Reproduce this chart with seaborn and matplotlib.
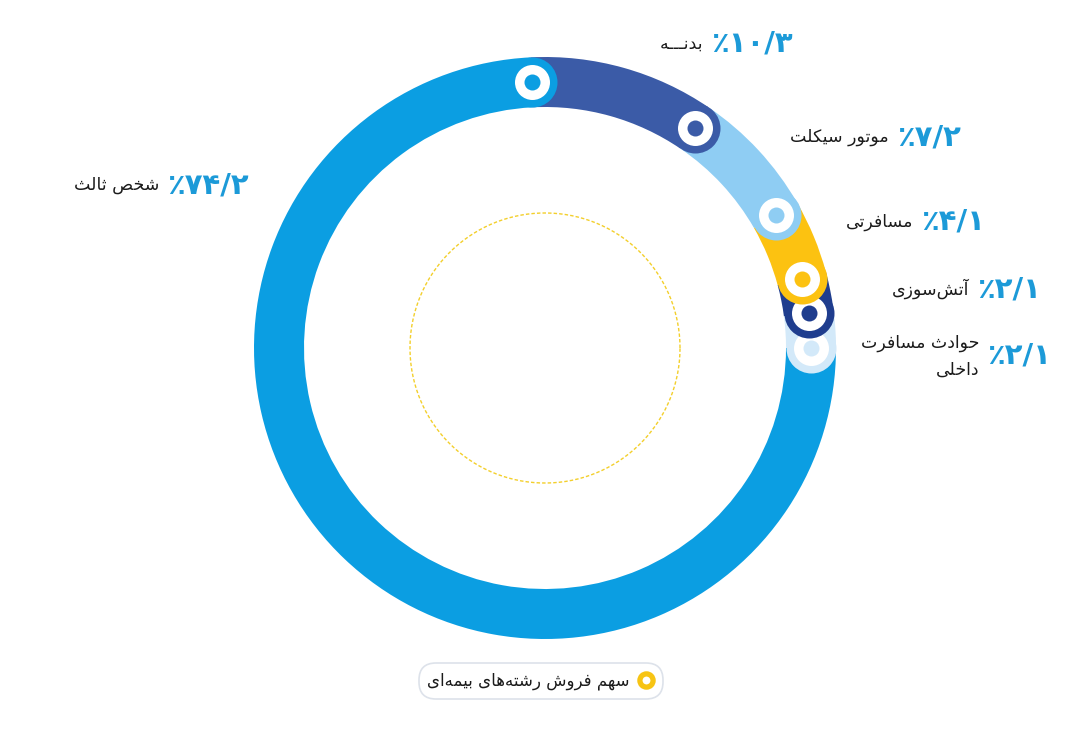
import numpy as np
import matplotlib
matplotlib.use("Agg")
import matplotlib.pyplot as plt
import seaborn as sns
from matplotlib.lines import Line2D

# ---------------- data ----------------
categories = ["شخص ثالث", "بدنـــه", "موتور سی\u06a9لت", "مسافرت\u06cc",
              "آتش\u200cسوز\u06cc", "حوادث مسافرت\nداخل\u06cc"]
shares = [74.2, 10.3, 7.2, 4.1, 2.1, 2.1]
colors = ["#0b9ee2", "#3b5ba7", "#8fcdf3", "#fcc211", "#1f3d8e", "#d3e9f9"]
legend_label = "سهم فروش رشته\u200cها\u06cc ب\u06ccمه\u200cا\u06cc"

# label anchors in pixels (x of percent left edge, y centre from top)
label_pos = [(167, 185), (711, 44), (897, 137), (921, 222), (977, 289), (987, 356)]

# ---------------- simple Persian shaping ----------------
_FORMS = {
    'ا': ('\uFE8D', '\uFE8E'), 'آ': ('\uFE81', '\uFE82'),
    'ب': ('\uFE8F', '\uFE90', '\uFE91', '\uFE92'),
    'ت': ('\uFE95', '\uFE96', '\uFE97', '\uFE98'),
    'ث': ('\uFE99', '\uFE9A', '\uFE9B', '\uFE9C'),
    'ح': ('\uFEA1', '\uFEA2', '\uFEA3', '\uFEA4'),
    'خ': ('\uFEA5', '\uFEA6', '\uFEA7', '\uFEA8'),
    'د': ('\uFEA9', '\uFEAA'), 'ر': ('\uFEAD', '\uFEAE'), 'ز': ('\uFEAF', '\uFEB0'),
    'س': ('\uFEB1', '\uFEB2', '\uFEB3', '\uFEB4'),
    'ش': ('\uFEB5', '\uFEB6', '\uFEB7', '\uFEB8'),
    'ص': ('\uFEB9', '\uFEBA', '\uFEBB', '\uFEBC'),
    'ف': ('\uFED1', '\uFED2', '\uFED3', '\uFED4'),
    'ل': ('\uFEDD', '\uFEDE', '\uFEDF', '\uFEE0'),
    'م': ('\uFEE1', '\uFEE2', '\uFEE3', '\uFEE4'),
    'ن': ('\uFEE5', '\uFEE6', '\uFEE7', '\uFEE8'),
    'ه': ('\uFEE9', '\uFEEA', '\uFEEB', '\uFEEC'),
    'و': ('\uFEED', '\uFEEE'),
    '\u06cc': ('\uFBFC', '\uFBFD', '\uFBFE', '\uFBFF'),
    '\u064a': ('\uFBFC', '\uFBFD', '\uFBFE', '\uFBFF'),
    '\u06a9': ('\uFB8E', '\uFB8F', '\uFB90', '\uFB91'),
    '\u0643': ('\uFB8E', '\uFB8F', '\uFB90', '\uFB91'),
    '\u0640': ('\u0640', '\u0640', '\u0640', '\u0640'),
}


def _shape_line(text):
    chars = list(text)
    out = []
    for i, c in enumerate(chars):
        if c == '\u200c':
            continue
        if c not in _FORMS:
            out.append(c)
            continue
        f = _FORMS[c]
        prev = chars[i - 1] if i > 0 else None
        nxt = chars[i + 1] if i + 1 < len(chars) else None
        jp = prev in _FORMS and len(_FORMS[prev]) == 4
        jn = len(f) == 4 and nxt in _FORMS
        if jp and jn:
            out.append(f[3])
        elif jn:
            out.append(f[2])
        elif jp:
            out.append(f[1])
        else:
            out.append(f[0])
    return ''.join(reversed(out))


def shape(text):
    return '\n'.join(_shape_line(t) for t in text.split('\n'))


_FA_DIGITS = str.maketrans('0123456789', '۰۱۲۳۴۵۶۷۸۹')


def fa_percent(v):
    return '٪' + f"{v:.1f}".replace('.', '/').translate(_FA_DIGITS)


# ---------------- figure ----------------
sns.set_theme(style="white")
plt.rcParams['font.family'] = ['DejaVu Sans']

W, H = 1080, 741
fig = plt.figure(figsize=(W / 100, H / 100), dpi=100)
fig.patch.set_facecolor('white')

cx, cy, R = 545, 348, 291
ax = fig.add_axes([(cx - R) / W, (H - cy - R) / H, 2 * R / W, 2 * R / H])

ring_w = 50 / R
ax.pie(shares, colors=colors, startangle=0, counterclock=False, radius=1.0,
       wedgeprops=dict(width=ring_w, edgecolor='none', linewidth=0))
ax.set_xlim(-1, 1)
ax.set_ylim(-1, 1)
ax.set_aspect('equal')
ax.axis('off')

# inner dashed circle
t = np.linspace(0, 2 * np.pi, 400)
ax.plot(0.464 * np.cos(t), 0.464 * np.sin(t), color='#f3cf2b', lw=1.0,
        linestyle=(0, (2.5, 1.5)))

# end markers of each segment
fr = np.cumsum(shares) / np.sum(shares)
theta = -fr * 2 * np.pi
rm = 1 - ring_w / 2
mx, my = rm * np.cos(theta), rm * np.sin(theta)
px2pt = 0.72
n = len(shares)
for i in range(n):
    z = 100 - 3 * i
    sns.scatterplot(x=[mx[i]], y=[my[i]], s=(50 * px2pt) ** 2, color=colors[i],
                    linewidth=0, ax=ax, zorder=z, legend=False)
    sns.scatterplot(x=[mx[i]], y=[my[i]], s=(35 * px2pt) ** 2, color='white',
                    linewidth=0, ax=ax, zorder=z + 1, legend=False)
    sns.scatterplot(x=[mx[i]], y=[my[i]], s=(16 * px2pt) ** 2, color=colors[i],
                    linewidth=0, ax=ax, zorder=z + 2, legend=False)


def fpos(x, y):
    return x / W, 1 - y / H


for cat, v, (lx, ly) in zip(categories, shares, label_pos):
    fig.text(*fpos(lx, ly), fa_percent(v), ha='left', va='center', fontsize=21,
             fontweight='bold', color='#1c9ad8')
    fig.text(*fpos(lx - 8, ly), shape(cat), ha='right', va='center', fontsize=12.5,
             color='#1b1b1b', multialignment='right', linespacing=1.6)

# legend
handle = Line2D([], [], marker='o', linestyle='none', markersize=9.5,
                markerfacecolor='white', markeredgecolor='#f7c414', markeredgewidth=3.8)
leg = fig.legend(handles=[handle], labels=[shape(legend_label)], loc='center',
                 bbox_to_anchor=fpos(541, 681), markerfirst=False, frameon=True,
                 fancybox=True, edgecolor='#dde2ea', facecolor='white', framealpha=1,
                 borderpad=0.5, handletextpad=0.5, handlelength=1.0,
                 borderaxespad=0, prop=dict(size=12))
leg.get_frame().set_linewidth(1.2)
leg.get_frame().set_boxstyle('round', pad=0, rounding_size=1.0)
for txt in leg.get_texts():
    txt.set_color('#1b1b1b')

fig.savefig('out.png', dpi=100, facecolor='white')
